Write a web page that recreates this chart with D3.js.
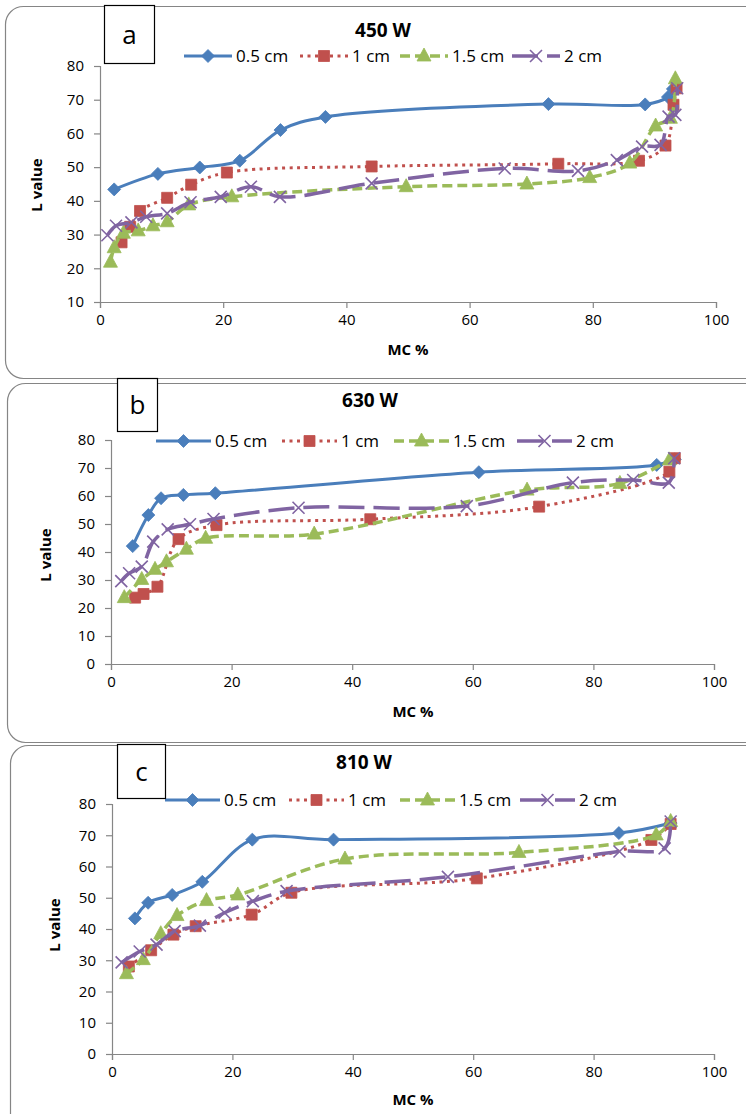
<!DOCTYPE html>
<html>
<head>
<meta charset="utf-8">
<script src="https://cdn.jsdelivr.net/npm/d3@7"></script>
<style>
  body { margin: 0; background: #fff; }
  svg { display: block; }
  text { font-family: "Open Sans", "Noto Sans", sans-serif; fill: #000; }
</style>
</head>
<body>
<svg id="chart" width="746" height="1114"></svg>
<script>
// Sample thicknesses shown in each legend
const seriesNames = ["0.5 cm", "1 cm", "1.5 cm", "2 cm"];
const panelTitles = ["450 W", "630 W", "810 W"];
const panelLetters = ["a", "b", "c"];
const xTicks = [0, 20, 40, 60, 80, 100];
const yTicksA = [10, 20, 30, 40, 50, 60, 70, 80];
const yTicksBC = [0, 10, 20, 30, 40, 50, 60, 70, 80];

// [MC %, L value] readings — 450 W
const w450_05 = [[2.3,43.4],[9.4,48.0],[16.2,49.9],[22.7,51.9],[29.3,61.0],[36.6,64.9],[72.8,68.7],[88.5,68.6],[92.2,70.8],[93.0,73.2]];
const w450_10 = [[3.5,27.7],[4.9,32.3],[6.5,37.0],[10.9,40.9],[14.8,44.8],[20.6,48.4],[44.1,50.2],[74.4,51.0],[87.5,51.9],[91.8,56.4],[93.1,68.5],[93.6,73.4]];
const w450_15 = [[1.7,21.8],[2.3,26.1],[3.8,30.4],[6.2,31.1],[8.6,32.6],[10.9,33.8],[14.4,38.8],[21.4,41.2],[49.7,44.2],[69.3,45.0],[79.5,46.9],[86.0,51.2],[90.2,62.2],[92.6,64.5],[93.4,76.2]];
const w450_20 = [[1.2,29.8],[2.6,32.6],[5.1,33.6],[7.5,35.3],[10.9,36.3],[14.7,39.6],[19.6,41.2],[24.5,44.2],[29.2,41.2],[44.1,45.2],[65.7,49.6],[77.6,48.9],[83.9,52.1],[88.0,56.1],[91.0,56.6],[92.3,65.0],[93.4,65.5],[93.7,73.4]];

// 630 W
const w630_05 = [[3.6,42.1],[6.2,53.2],[8.3,59.2],[12.0,60.4],[17.3,61.0],[61.0,68.5],[90.5,71.1],[93.5,73.1]];
const w630_10 = [[4.0,23.7],[5.4,25.0],[7.7,27.6],[11.2,44.6],[17.5,49.6],[43.0,51.7],[71.0,56.2],[92.6,68.7],[93.5,73.5]];
const w630_15 = [[2.2,23.7],[5.1,30.2],[7.3,33.8],[9.2,36.5],[12.5,41.0],[15.7,44.9],[33.7,46.4],[69.0,62.1],[84.4,64.5],[92.6,72.9]];
const w630_20 = [[1.7,29.6],[3.0,32.4],[5.1,34.8],[7.0,43.7],[9.4,48.1],[13.1,49.9],[17.0,51.8],[31.1,55.8],[59.0,56.4],[76.6,64.8],[86.6,65.7],[92.5,64.8],[93.4,73.5]];

// 810 W
const w810_05 = [[3.8,43.4],[6.0,48.4],[10.0,50.9],[15.0,55.1],[23.3,68.6],[36.8,68.6],[84.2,70.7],[92.8,73.9]];
const w810_10 = [[2.8,28.0],[6.5,33.2],[10.2,38.2],[13.9,40.9],[23.2,44.6],[29.8,51.6],[60.6,56.2],[89.6,68.5],[92.8,73.6]];
const w810_15 = [[2.4,25.7],[5.2,30.2],[8.1,38.5],[10.8,44.3],[15.7,49.1],[20.9,50.9],[38.7,62.4],[67.6,64.5],[90.4,70.1],[92.8,74.4]];
const w810_20 = [[1.6,29.3],[4.6,32.8],[7.4,35.0],[10.4,39.3],[14.6,41.1],[18.7,45.2],[23.4,48.9],[29.0,52.1],[55.8,56.7],[84.3,64.8],[91.8,65.8],[92.8,74.4]];

const panelData = [
  [w450_05, w450_10, w450_15, w450_20],
  [w630_05, w630_10, w630_15, w630_20],
  [w810_05, w810_10, w810_15, w810_20]
];
const panelYTicks = [yTicksA, yTicksBC, yTicksBC];

// Series styling: colour, dash pattern, marker shape
const styles = [
  { color: "#4A7EBB", dash: null,    width: 3,   marker: "diamond" },
  { color: "#C0504D", dash: "3,4.5", width: 3,   marker: "square" },
  { color: "#9BBB59", dash: "10,5",  width: 3.5, marker: "triangle" },
  { color: "#8064A2", dash: "26,9",  width: 3.5, marker: "x" }
];

// Panel geometry
const panels = [
  { frame: [5.5, 6.5, 372], plot: { x0: 100, x1: 716, y0: 302, y1: 66 }, yDom: [10, 80],
    letterBox: [104.5, 5.5, 50, 58], title: [383, 30], legendY: 56, legendX: [184, 300, 400, 512], sampleW: 48,
    yTitle: [37, 185], xTitle: [408, 350] },
  { frame: [7.5, 383.5, 359], plot: { x0: 111, x1: 714, y0: 664, y1: 440 }, yDom: [0, 80],
    letterBox: [117.5, 378.5, 40, 53], title: [370, 400], legendY: 441, legendX: [156, 282, 394, 517], sampleW: 55,
    yTitle: [46, 555], xTitle: [413, 712] },
  { frame: [10.5, 745.5, 420], plot: { x0: 112, x1: 714, y0: 1054, y1: 804 }, yDom: [0, 80],
    letterBox: [117.5, 744.5, 48, 54], title: [364, 762], legendY: 800, legendX: [165, 289, 400, 520], sampleW: 55,
    yTitle: [55, 925], xTitle: [413, 1100] }
];

const svg = d3.select("#chart");
svg.append("rect").attr("width", 746).attr("height", 1114).attr("fill", "#fff");

function markerPath(kind) {
  switch (kind) {
    case "diamond": return "M0,-6.5L6.5,0L0,6.5L-6.5,0Z";
    case "square": return "M-5.5,-5.5H5.5V5.5H-5.5Z";
    case "triangle": return "M0,-8L7,5L-7,5Z";
    default: return "M-6,-6L6,6M6,-6L-6,6";
  }
}

function drawMarker(g, kind, color, x, y) {
  const p = g.append("path").attr("d", markerPath(kind)).attr("transform", `translate(${x},${y})`);
  if (kind === "x") p.attr("fill", "none").attr("stroke", color).attr("stroke-width", 1.6);
  else p.attr("fill", color).attr("stroke", color).attr("stroke-width", 0.8);
}

const line = d3.line().curve(d3.curveCatmullRom.alpha(0.5));

panels.forEach((P, i) => {
  const g = svg.append("g");

  // Chart frame
  g.append("rect")
    .attr("x", P.frame[0]).attr("y", P.frame[1])
    .attr("width", 800).attr("height", P.frame[2])
    .attr("rx", 18).attr("ry", 18)
    .attr("fill", "#fff").attr("stroke", "#858585").attr("stroke-width", 1.2);

  const x = d3.scaleLinear().domain([0, 100]).range([P.plot.x0, P.plot.x1]);
  const y = d3.scaleLinear().domain(P.yDom).range([P.plot.y0, P.plot.y1]);

  // Axes
  const xAxis = d3.axisBottom(x).tickValues(xTicks).tickSize(6).tickPadding(6);
  const yAxis = d3.axisLeft(y).tickValues(panelYTicks[i]).tickSize(6).tickPadding(10);
  const gx = g.append("g").attr("transform", `translate(0,${P.plot.y0})`).call(xAxis);
  const gy = g.append("g").attr("transform", `translate(${P.plot.x0},0)`).call(yAxis);
  [gx, gy].forEach(ax => {
    ax.select(".domain").attr("stroke", "#868686").attr("stroke-width", 1.2);
    ax.selectAll(".tick line").attr("stroke", "#868686").attr("stroke-width", 1.2);
    ax.selectAll(".tick text").attr("font-size", 15).attr("font-family", "'Open Sans', sans-serif").attr("fill", "#000");
  });

  // Series
  panelData[i].forEach((data, s) => {
    const st = styles[s];
    const sg = g.append("g");
    sg.append("path")
      .attr("d", line(data.map(d => [x(d[0]), y(d[1])])))
      .attr("fill", "none")
      .attr("stroke", st.color)
      .attr("stroke-width", st.width)
      .attr("stroke-dasharray", st.dash)
      .attr("stroke-linejoin", "round");
    data.forEach(d => drawMarker(sg, st.marker, st.color, x(d[0]), y(d[1])));
  });

  // Legend
  seriesNames.forEach((name, s) => {
    const st = styles[s];
    const lx = P.legendX[s];
    g.append("line")
      .attr("x1", lx).attr("x2", lx + P.sampleW)
      .attr("y1", P.legendY).attr("y2", P.legendY)
      .attr("stroke", st.color).attr("stroke-width", st.width)
      .attr("stroke-dasharray", st.dash);
    drawMarker(g, st.marker, st.color, lx + P.sampleW / 2, P.legendY);
    g.append("text")
      .attr("x", lx + P.sampleW + 4).attr("y", P.legendY)
      .attr("dy", "0.35em").attr("font-size", 17)
      .text(name);
  });

  // Title
  g.append("text")
    .attr("x", P.title[0]).attr("y", P.title[1]).attr("dy", "0.35em")
    .attr("text-anchor", "middle").attr("font-size", 19).attr("font-weight", "bold")
    .text(panelTitles[i]);

  // Axis titles
  g.append("text")
    .attr("transform", `translate(${P.yTitle[0]},${P.yTitle[1]}) rotate(-90)`)
    .attr("text-anchor", "middle").attr("dy", "0.35em")
    .attr("font-size", 15).attr("font-weight", "bold")
    .text("L value");
  g.append("text")
    .attr("x", P.xTitle[0]).attr("y", P.xTitle[1]).attr("dy", "0.35em")
    .attr("text-anchor", "middle").attr("font-size", 15).attr("font-weight", "bold")
    .text("MC %");

  // Panel letter box
  const lb = P.letterBox;
  g.append("rect")
    .attr("x", lb[0]).attr("y", lb[1]).attr("width", lb[2]).attr("height", lb[3])
    .attr("fill", "#fff").attr("stroke", "#000").attr("stroke-width", 1.2);
  g.append("text")
    .attr("x", lb[0] + lb[2] / 2).attr("y", lb[1] + lb[3] / 2).attr("dy", "0.35em")
    .attr("text-anchor", "middle").attr("font-size", 26)
    .text(panelLetters[i]);
});
</script>
</body>
</html>
